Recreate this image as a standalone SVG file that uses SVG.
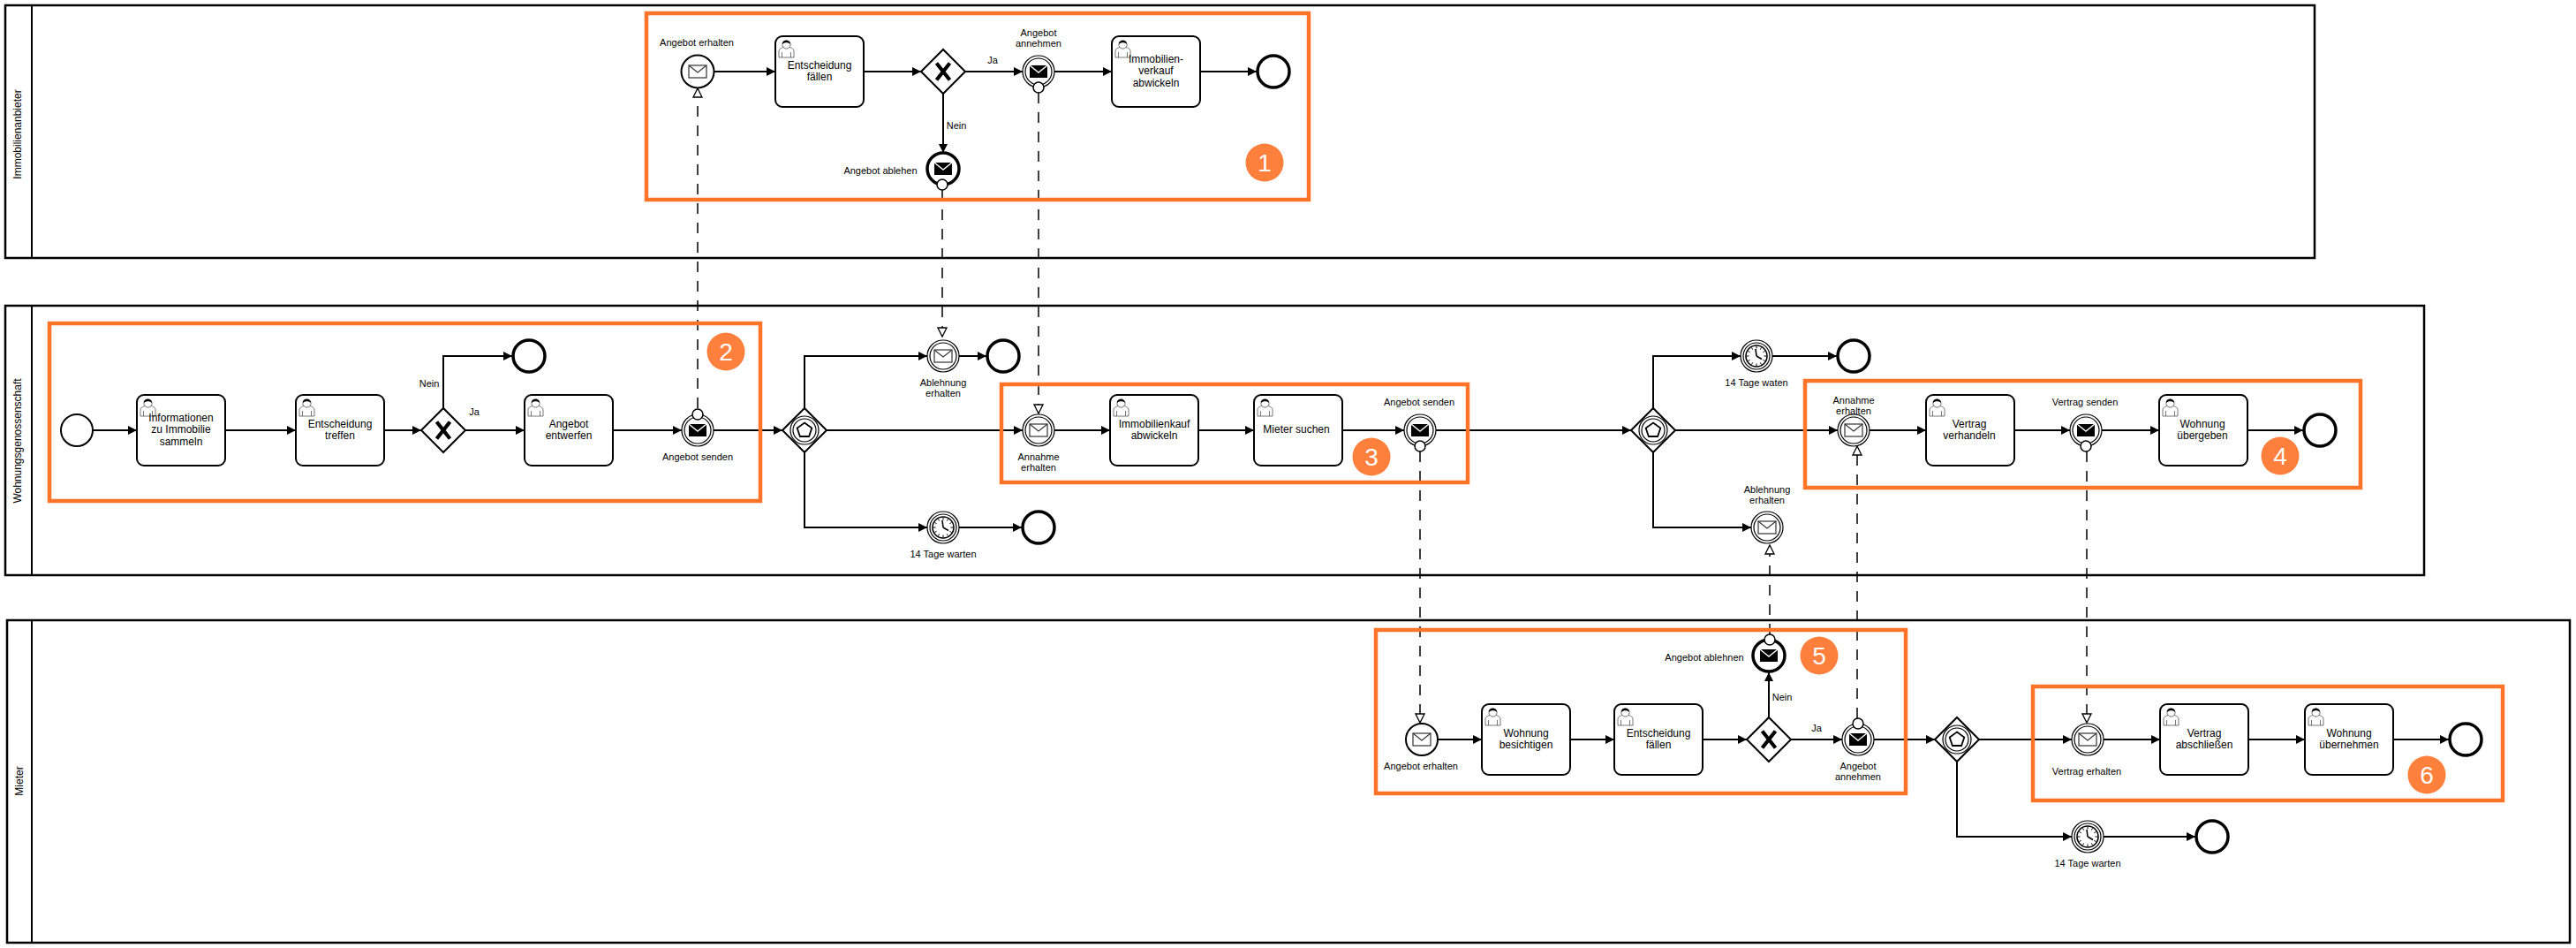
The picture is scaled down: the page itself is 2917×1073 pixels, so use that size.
<svg xmlns="http://www.w3.org/2000/svg" xmlns:xlink="http://www.w3.org/1999/xlink" width="2917" height="1073" viewBox="0 0 2917 1073">
<style>
text{font-family:"Liberation Sans",Arial,sans-serif;fill:#000;text-anchor:middle}
.t{font-size:12px}
.e{font-size:11px}
.p{font-size:12px}
.b{font-size:28px;fill:#fff}
.pool{fill:#fff;stroke:#000;stroke-width:2.5}
.lane{fill:none;stroke:#000;stroke-width:2}
.task{fill:#fff;stroke:#000;stroke-width:2}
.s{fill:#fff;stroke:#000;stroke-width:2}
.d{fill:#fff;stroke:#000;stroke-width:1.2}
.h{fill:#fff;stroke:#000;stroke-width:3.5}
.seq{fill:none;stroke:#000;stroke-width:2;marker-end:url(#a)}
.msg{fill:none;stroke:#000;stroke-width:1.5;stroke-dasharray:12 10;marker-end:url(#o)}
.box{fill:none;stroke:#ff7429;stroke-width:4.5}
.badge{fill:#ff7f3c}
</style>
<defs>
<marker id="a" markerUnits="userSpaceOnUse" markerWidth="11" markerHeight="11" refX="10" refY="5.5" orient="auto"><path d="M0,0.5 L10,5.5 L0,10.5 z" fill="#000"/></marker>
<marker id="o" markerUnits="userSpaceOnUse" markerWidth="13" markerHeight="13" refX="11" refY="6.5" orient="auto"><path d="M1,1.5 L11,6.5 L1,11.5 z" fill="#fff" stroke="#000" stroke-width="1.3" stroke-dasharray="none"/></marker>
<g id="envW"><rect x="-10" y="-7" width="20" height="14" fill="#fff" stroke="#333" stroke-width="1.2"/><path d="M-10,-7 L0,1 L10,-7" fill="none" stroke="#333" stroke-width="1.1"/></g>
<g id="envB"><rect x="-10" y="-7" width="20" height="14" fill="#000"/><path d="M-10,-7 L0,1 L10,-7" fill="none" stroke="#fff" stroke-width="1.4"/></g>
<g id="ring"><circle r="18" class="d"/><circle r="15" class="d"/></g>
<g id="catch"><use href="#ring"/><use href="#envW"/></g>
<g id="throw"><use href="#ring"/><use href="#envB"/></g>
<g id="timer"><use href="#ring"/><circle r="12" fill="#fff" stroke="#000" stroke-width="1.6"/><path d="M0,-11V-8.500M5.500,-9.500L4.300,-7.400M9.500,-5.500L7.400,-4.300M11,0H8.500M9.500,5.500L7.400,4.300M5.500,9.500L4.300,7.400M0,11V8.500M-5.500,9.500L-4.300,7.400M-9.500,5.500L-7.400,4.300M-11,0H-8.500M-9.500,-5.500L-7.400,-4.300M-5.500,-9.500L-4.300,-7.400" stroke="#000" stroke-width="1" fill="none"/><path d="M0,0L-1,-8M0,0L6,3.500" stroke="#000" stroke-width="1.6" fill="none"/></g>
<g id="xgw"><path d="M-25,0 L0,-25 L25,0 L0,25 z" class="s"/><path d="M-7.500,-9.500 L7.500,9.500 M7.500,-9.500 L-7.500,9.500" stroke="#000" stroke-width="4.200" fill="none"/></g>
<g id="egw"><path d="M-25,0 L0,-25 L25,0 L0,25 z" class="s"/><circle r="16" class="d"/><circle r="13" class="d"/><path d="M0,-8.500 L8.300,-2.500 L5.100,7 L-5.100,7 L-8.300,-2.500 z" fill="#fff" stroke="#000" stroke-width="1.8"/></g>
<g id="usr"><path d="M1,21 V14 C1,10.500 5,10 7,9 H12 C14,10 18,10.500 18,14 V21 H1z M4.500,21V15M14.500,21V15" fill="#fff" stroke="#555" stroke-width="0.8"/><circle cx="9.500" cy="6.500" r="4.600" fill="#fff" stroke="#333" stroke-width="0.7"/><path d="M5,6 C4,1 14,0 14,6 C12,3.500 7,3.500 5,6z" fill="#000"/></g>
<circle id="port" r="6" fill="#fff" stroke="#000" stroke-width="1.5"/>
</defs>

<rect width="2917" height="1073" fill="#fff"/>

<g id="pools">
<g id="pool-immobilienanbieter"><rect class="pool" x="6" y="6" width="2615" height="286"/><path class="lane" d="M36,6V292"/><text class="p" transform="translate(24,152) rotate(-90)">Immobilienanbieter</text></g>
<g id="pool-wohnungsgenossenschaft"><rect class="pool" x="6" y="346" width="2739" height="305"/><path class="lane" d="M36,346V651"/><text class="p" transform="translate(24,499) rotate(-90)">Wohnungsgenossenschaft</text></g>
<g id="pool-mieter"><rect class="pool" x="8" y="702" width="2902" height="365"/><path class="lane" d="M36,702V1067"/><text class="p" transform="translate(26,884) rotate(-90)">Mieter</text></g>
</g>

<g id="connectors">
<path class="seq" d="M809,81H878"/>
<path class="seq" d="M978,81H1043"/>
<path class="seq" d="M1093,81H1158"/>
<path class="seq" d="M1068,106V173"/>
<path class="seq" d="M1194,81H1259"/>
<path class="seq" d="M1359,81H1423"/>
<path class="seq" d="M105,487H155"/>
<path class="seq" d="M254,487H335"/>
<path class="seq" d="M435,487H477"/>
<path class="seq" d="M502,462V403H580"/>
<path class="seq" d="M527,487H594"/>
<path class="seq" d="M694,487H772"/>
<path class="seq" d="M808,487H886"/>
<path class="seq" d="M911,462V403H1050"/>
<path class="seq" d="M1086,403H1117"/>
<path class="seq" d="M911,512V597H1050"/>
<path class="seq" d="M1086,597H1157"/>
<path class="seq" d="M936,487H1158"/>
<path class="seq" d="M1194,487H1257"/>
<path class="seq" d="M1357,487H1420"/>
<path class="seq" d="M1520,487H1590"/>
<path class="seq" d="M1626,487H1847"/>
<path class="seq" d="M1872,462V403H1971"/>
<path class="seq" d="M2007,403H2080"/>
<path class="seq" d="M1872,512V597H1983"/>
<path class="seq" d="M1897,487H2081"/>
<path class="seq" d="M2117,487H2181"/>
<path class="seq" d="M2281,487H2344"/>
<path class="seq" d="M2380,487H2445"/>
<path class="seq" d="M2545,487H2608"/>
<path class="seq" d="M1628,837H1678"/>
<path class="seq" d="M1778,837H1828"/>
<path class="seq" d="M1928,837H1978"/>
<path class="seq" d="M2028,837H2086"/>
<path class="seq" d="M2003,812V761"/>
<path class="seq" d="M2122,837H2191"/>
<path class="seq" d="M2241,837H2346"/>
<path class="seq" d="M2216,862V947H2346"/>
<path class="seq" d="M2382,837H2446"/>
<path class="seq" d="M2546,837H2610"/>
<path class="seq" d="M2710,837H2773"/>
<path class="seq" d="M2382,947H2486"/>
<path class="msg" d="M790,462V100"/>
<path class="msg" d="M1067,215V381"/>
<path class="msg" d="M1176,105V468"/>
<path class="msg" d="M1608,511V818"/>
<path class="msg" d="M2004,718V617"/>
<path class="msg" d="M2103,813V505"/>
<path class="msg" d="M2363,511V818"/>
</g>

<g id="n1-erhalten"><circle cx="790" cy="81" r="18.500" class="s"/><use href="#envW" x="790" y="81"/><text class="e" x="789" y="52">Angebot erhalten</text></g>
<g id="n1-entscheidung"><rect class="task" x="878" y="41" width="100" height="80" rx="8"/><use href="#usr" x="881" y="44"/><text class="t" x="928" y="78">Entscheidung</text><text class="t" x="928" y="91">fällen</text></g>
<g id="n1-gateway"><use href="#xgw" x="1068" y="81"/><text class="e" x="1124" y="72">Ja</text><text class="e" x="1083" y="146">Nein</text></g>
<g id="n1-annehmen"><use href="#throw" x="1176" y="81"/><use href="#port" x="1176" y="99"/><text class="e" x="1176" y="41">Angebot</text><text class="e" x="1176" y="53">annehmen</text></g>
<g id="n1-abwickeln"><rect class="task" x="1259" y="41" width="100" height="80" rx="8"/><use href="#usr" x="1262" y="44"/><text class="t" x="1309" y="71">Immobilien-</text><text class="t" x="1309" y="84">verkauf</text><text class="t" x="1309" y="98">abwickeln</text></g>
<g id="n1-ende"><circle cx="1442" cy="81" r="18" class="h"/></g>
<g id="n1-ablehnen"><circle cx="1068" cy="191" r="18" class="h"/><use href="#envB" x="1068" y="191"/><use href="#port" x="1067" y="209"/><text class="e" x="997" y="197">Angebot ablehen</text></g>

<g id="n2-start"><circle cx="87" cy="487" r="18" class="s"/></g>
<g id="n2-info"><rect class="task" x="155" y="447" width="100" height="80" rx="8"/><use href="#usr" x="158" y="450"/><text class="t" x="205" y="477">Informationen</text><text class="t" x="205" y="490">zu Immobilie</text><text class="t" x="205" y="504">sammeln</text></g>
<g id="n2-entscheidung"><rect class="task" x="335" y="447" width="100" height="80" rx="8"/><use href="#usr" x="338" y="450"/><text class="t" x="385" y="484">Entscheidung</text><text class="t" x="385" y="497">treffen</text></g>
<g id="n2-gateway"><use href="#xgw" x="502" y="487"/><text class="e" x="486" y="438">Nein</text><text class="e" x="537" y="470">Ja</text></g>
<g id="n2-ende"><circle cx="599" cy="403" r="18" class="h"/></g>
<g id="n2-entwerfen"><rect class="task" x="594" y="447" width="100" height="80" rx="8"/><use href="#usr" x="597" y="450"/><text class="t" x="644" y="484">Angebot</text><text class="t" x="644" y="497">entwerfen</text></g>
<g id="n2-senden"><use href="#throw" x="790" y="487"/><use href="#port" x="790" y="469"/><text class="e" x="790" y="521">Angebot senden</text></g>
<g id="n2-gw1"><use href="#egw" x="911" y="487"/></g>
<g id="n2-ablehnung"><use href="#catch" x="1068" y="403"/><text class="e" x="1068" y="437">Ablehnung</text><text class="e" x="1068" y="449">erhalten</text></g>
<g id="n2-ende2"><circle cx="1136" cy="403" r="18" class="h"/></g>
<g id="n2-timer"><use href="#timer" x="1068" y="597"/><text class="e" x="1068" y="631">14 Tage warten</text></g>
<g id="n2-ende3"><circle cx="1176" cy="597" r="18" class="h"/></g>
<g id="n2-annahme"><use href="#catch" x="1176" y="487"/><text class="e" x="1176" y="521">Annahme</text><text class="e" x="1176" y="533">erhalten</text></g>
<g id="n2-kauf"><rect class="task" x="1257" y="447" width="100" height="80" rx="8"/><use href="#usr" x="1260" y="450"/><text class="t" x="1307" y="484">Immobilienkauf</text><text class="t" x="1307" y="497">abwickeln</text></g>
<g id="n2-mieter"><rect class="task" x="1420" y="447" width="100" height="80" rx="8"/><use href="#usr" x="1423" y="450"/><text class="t" x="1468" y="490">Mieter suchen</text></g>
<g id="n2-senden2"><use href="#throw" x="1608" y="487"/><use href="#port" x="1608" y="505"/><text class="e" x="1607" y="459">Angebot senden</text></g>
<g id="n2-gw2"><use href="#egw" x="1872" y="487"/></g>
<g id="n2-timer2"><use href="#timer" x="1989" y="403"/><text class="e" x="1989" y="437">14 Tage waten</text></g>
<g id="n2-ende4"><circle cx="2099" cy="403" r="18" class="h"/></g>
<g id="n2-ablehnung2"><use href="#catch" x="2001" y="597"/><text class="e" x="2001" y="558">Ablehnung</text><text class="e" x="2001" y="570">erhalten</text></g>
<g id="n2-annahme2"><use href="#catch" x="2099" y="487"/><text class="e" x="2099" y="457">Annahme</text><text class="e" x="2099" y="469">erhalten</text></g>
<g id="n2-verhandeln"><rect class="task" x="2181" y="447" width="100" height="80" rx="8"/><use href="#usr" x="2184" y="450"/><text class="t" x="2230" y="484">Vertrag</text><text class="t" x="2230" y="497">verhandeln</text></g>
<g id="n2-vertrag"><use href="#throw" x="2362" y="487"/><use href="#port" x="2362" y="505"/><text class="e" x="2361" y="459">Vertrag senden</text></g>
<g id="n2-wohnung"><rect class="task" x="2445" y="447" width="100" height="80" rx="8"/><use href="#usr" x="2448" y="450"/><text class="t" x="2494" y="484">Wohnung</text><text class="t" x="2494" y="497">übergeben</text></g>
<g id="n2-ende5"><circle cx="2627" cy="487" r="18" class="h"/></g>

<g id="n3-erhalten"><circle cx="1610" cy="837" r="18" class="s"/><use href="#envW" x="1610" y="837"/><text class="e" x="1609" y="871">Angebot erhalten</text></g>
<g id="n3-besichtigen"><rect class="task" x="1678" y="797" width="100" height="80" rx="8"/><use href="#usr" x="1681" y="800"/><text class="t" x="1728" y="834">Wohnung</text><text class="t" x="1728" y="847">besichtigen</text></g>
<g id="n3-entscheidung"><rect class="task" x="1828" y="797" width="100" height="80" rx="8"/><use href="#usr" x="1831" y="800"/><text class="t" x="1878" y="834">Entscheidung</text><text class="t" x="1878" y="847">fällen</text></g>
<g id="n3-gateway"><use href="#xgw" x="2003" y="837"/><text class="e" x="2018" y="793">Nein</text><text class="e" x="2057" y="828">Ja</text></g>
<g id="n3-ablehnen"><circle cx="2003" cy="742" r="18" class="h"/><use href="#envB" x="2003" y="742"/><use href="#port" x="2004" y="724"/><text class="e" x="1930" y="748">Angebot ablehnen</text></g>
<g id="n3-annehmen"><use href="#throw" x="2104" y="837"/><use href="#port" x="2104" y="819"/><text class="e" x="2104" y="871">Angebot</text><text class="e" x="2104" y="883">annehmen</text></g>
<g id="n3-gw"><use href="#egw" x="2216" y="837"/></g>
<g id="n3-vertrag"><use href="#catch" x="2364" y="837"/><text class="e" x="2363" y="877">Vertrag erhalten</text></g>
<g id="n3-abschliessen"><rect class="task" x="2446" y="797" width="100" height="80" rx="8"/><use href="#usr" x="2449" y="800"/><text class="t" x="2496" y="834">Vertrag</text><text class="t" x="2496" y="847">abschließen</text></g>
<g id="n3-uebernehmen"><rect class="task" x="2610" y="797" width="100" height="80" rx="8"/><use href="#usr" x="2613" y="800"/><text class="t" x="2660" y="834">Wohnung</text><text class="t" x="2660" y="847">übernehmen</text></g>
<g id="n3-ende"><circle cx="2792" cy="837" r="18" class="h"/></g>
<g id="n3-timer"><use href="#timer" x="2364" y="947"/><text class="e" x="2364" y="981">14 Tage warten</text></g>
<g id="n3-ende2"><circle cx="2505" cy="947" r="18" class="h"/></g>

<g id="highlights">
<rect class="box" x="732" y="15" width="750" height="211"/>
<rect class="box" x="56" y="366" width="805" height="201"/>
<rect class="box" x="1134" y="435" width="528" height="111"/>
<rect class="box" x="2044" y="431" width="629" height="121"/>
<rect class="box" x="1558" y="713" width="600" height="185"/>
<rect class="box" x="2302" y="777" width="532" height="129"/>
</g>
<g id="badge-1"><circle class="badge" cx="1432" cy="184" r="21.500"/><text class="b" x="1432" y="194">1</text></g>
<g id="badge-2"><circle class="badge" cx="822" cy="398" r="21.500"/><text class="b" x="822" y="408">2</text></g>
<g id="badge-3"><circle class="badge" cx="1553" cy="517" r="21.500"/><text class="b" x="1553" y="527">3</text></g>
<g id="badge-4"><circle class="badge" cx="2582" cy="516" r="21.500"/><text class="b" x="2582" y="526">4</text></g>
<g id="badge-5"><circle class="badge" cx="2060" cy="742" r="21.500"/><text class="b" x="2060" y="752">5</text></g>
<g id="badge-6"><circle class="badge" cx="2748" cy="877" r="21.500"/><text class="b" x="2748" y="887">6</text></g>
</svg>
